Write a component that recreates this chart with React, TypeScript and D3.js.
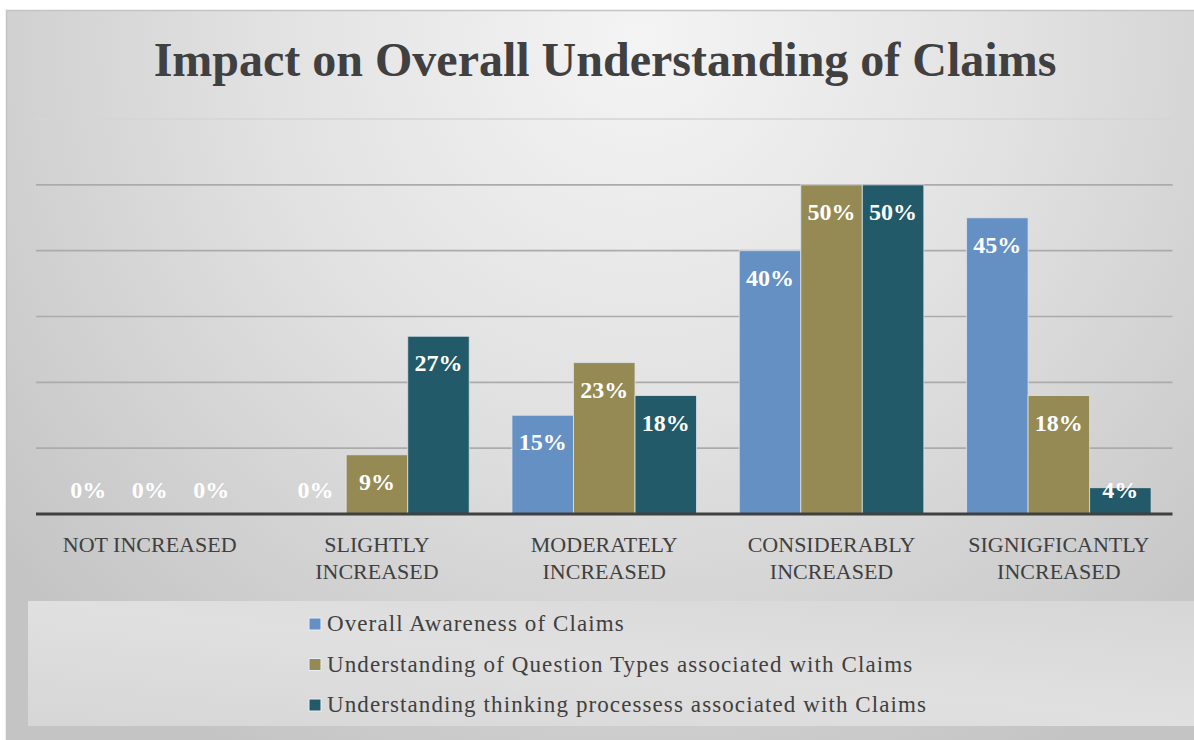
import React from "react";
import * as d3 from "d3";

const title = "Impact on Overall Understanding of Claims";
const categories = [
  "NOT INCREASED",
  "SLIGHTLY\nINCREASED",
  "MODERATELY\nINCREASED",
  "CONSIDERABLY\nINCREASED",
  "SIGNIGFICANTLY\nINCREASED",
];
const seriesNames = [
  "Overall Awareness of Claims",
  "Understanding of Question Types associated with Claims",
  "Understanding thinking processess associated with Claims",
];
const awareness = [0, 0, 15, 40, 45];
const questionTypes = [0, 9, 23, 50, 18];
const thinking = [0, 27, 18, 50, 4];
const seriesValues = [awareness, questionTypes, thinking];
const seriesColors = ["#6590c4", "#958a53", "#225a69"];
const yTicks = [10, 20, 30, 40, 50, 60];

const W = 1194;
const H = 740;
const plotLeft = 36;
const plotRight = 1172.5;
const plotBottom = 514;
const plotTop = 119;

export default function App() {
  const x0 = d3.scaleBand<string>().domain(categories).range([plotLeft, plotRight]).paddingInner(0).paddingOuter(0);
  const bw = x0.bandwidth();
  const gap = bw * 0.094;
  const x1 = d3
    .scaleBand<string>()
    .domain(seriesNames)
    .range([gap, bw - gap])
    .paddingInner(0);
  const y = d3.scaleLinear().domain([0, 60]).range([plotBottom, plotTop]);

  const serif = "'Liberation Serif', 'Times New Roman', serif";

  return (
    <div style={{ position: "absolute", left: 0, top: 0 }}>
      <svg width={W} height={H} style={{ display: "block" }}>
        <defs>
          <radialGradient id="bg" cx="640" cy="40" r="820" gradientUnits="userSpaceOnUse">
            <stop offset="0" stopColor="#f4f4f4" />
            <stop offset="0.45" stopColor="#e2e2e2" />
            <stop offset="1" stopColor="#c4c4c4" />
          </radialGradient>
          <linearGradient id="leg" x1="0" y1="1" x2="1" y2="0">
            <stop offset="0" stopColor="#d6d6d6" />
            <stop offset="0.5" stopColor="#e0e0e0" />
            <stop offset="1" stopColor="#d6d6d6" />
          </linearGradient>
        </defs>
        <rect x={0} y={0} width={W} height={H} fill="#ffffff" />
        <rect x={6.5} y={10.5} width={W} height={H} fill="url(#bg)" stroke="#c4c4c4" strokeWidth={1.5} />

        <text
          x={605}
          y={76}
          textAnchor="middle"
          fontFamily={serif}
          fontWeight="bold"
          fontSize={48}
          fill="#404040"
        >
          {title}
        </text>

        {/* gridlines */}
        {yTicks.map((t) => (
          <line
            key={t}
            x1={plotLeft}
            x2={plotRight}
            y1={y(t)}
            y2={y(t)}
            stroke={t === 60 ? "#d4d4d4" : "#ababab"}
            strokeWidth={1.6}
          />
        ))}

        {/* bars */}
        {categories.map((c, ci) => (
          <g key={c} transform={`translate(${x0(c)},0)`}>
            {seriesNames.map((s, si) => {
              const v = seriesValues[si][ci];
              if (v <= 0) return null;
              return (
                <rect
                  key={s}
                  x={x1(s)!}
                  y={y(v)}
                  width={x1.bandwidth()}
                  height={y(0) - y(v)}
                  fill={seriesColors[si]}
                  stroke="#dde3ea"
                  strokeOpacity={0.8}
                  strokeWidth={1}
                />
              );
            })}
          </g>
        ))}

        {/* axis line */}
        <line x1={plotLeft} x2={plotRight} y1={y(0)} y2={y(0)} stroke="#404040" strokeWidth={3} />

        {/* data labels */}
        {categories.map((c, ci) => (
          <g key={"l" + c} transform={`translate(${x0(c)},0)`}>
            {seriesNames.map((s, si) => {
              const v = seriesValues[si][ci];
              const by = Math.min(y(v) + 35, y(0) - 16);
              return (
                <text
                  key={s}
                  x={x1(s)! + x1.bandwidth() / 2}
                  y={by}
                  textAnchor="middle"
                  fontFamily={serif}
                  fontWeight="bold"
                  fontSize={24}
                  fill="#ffffff"
                >
                  {v + "%"}
                </text>
              );
            })}
          </g>
        ))}

        {/* category labels */}
        {categories.map((c) => {
          const lines = c.split("\n");
          const cx = x0(c)! + bw / 2;
          return (
            <text key={"c" + c} textAnchor="middle" fontFamily={serif} fontSize={22} fill="#404040">
              {lines.map((ln, i) => (
                <tspan key={i} x={cx} y={552 + i * 26.5}>
                  {ln}
                </tspan>
              ))}
            </text>
          );
        })}

        {/* legend */}
        <rect x={28} y={601} width={W} height={125} fill="url(#leg)" />
        {seriesNames.map((s, i) => {
          const by = 631 + i * 40.5;
          return (
            <g key={"lg" + s}>
              <rect x={309} y={by - 13} width={12} height={12} fill={seriesColors[i]} stroke="#e8eef4" strokeWidth={1} />
              <text x={327} y={by} fontFamily={serif} fontSize={23} letterSpacing={1.1} fill="#404040">
                {s}
              </text>
            </g>
          );
        })}
      </svg>
    </div>
  );
}
